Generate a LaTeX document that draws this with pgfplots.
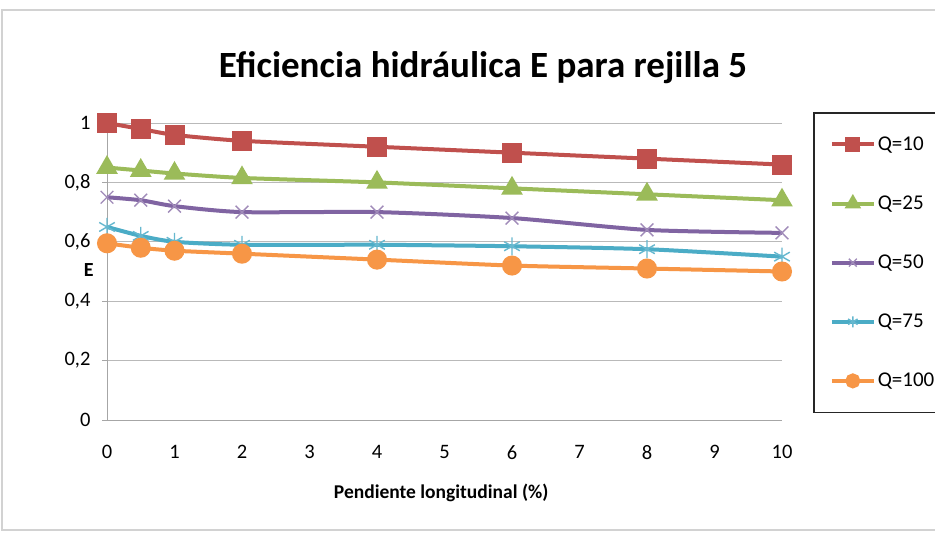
\documentclass[border=0pt]{standalone}
\usepackage{pgfplots}
\pgfplotsset{compat=1.18}
\usepackage{fontspec}
\setmainfont{Carlito}
\definecolor{cA}{HTML}{C0504D}
\definecolor{cB}{HTML}{9BBB59}
\definecolor{cC}{HTML}{8064A2}
\definecolor{cD}{HTML}{4BACC6}
\definecolor{cE}{HTML}{F79646}
\begin{document}
\begin{tikzpicture}[x=1pt,y=1pt]
\fill[white] (0,0) rectangle (935,536);
\draw[gray!35, line width=1.2pt] (2,6) rectangle (945,526);
\node[font=\bfseries\fontsize{37}{42}\selectfont] at (483,468) {Eficiencia hidráulica E para rejilla 5};
\begin{axis}[
  at={(107pt,116pt)}, anchor=south west,
  scale only axis, width=675pt, height=297pt,
  xmin=0, xmax=10, ymin=0, ymax=1,
  xtick={0,1,2,3,4,5,6,7,8,9,10},
  ytick={0,0.2,0.4,0.6,0.8,1},
  yticklabel style={/pgf/number format/use comma,/pgf/number format/fixed},
  /pgf/number format/assume math mode=true,
  tick label style={font=\fontsize{20.5}{22}\selectfont},
  xticklabel style={yshift=-22pt},
  yticklabel style={xshift=-8pt},
  xtick style={draw=none},
  ytick style={draw=gray!70, line width=0.9pt},
  ytick align=outside, major tick length=5pt,
  axis x line*=bottom, axis y line*=left,
  axis line style={gray!70, line width=1pt},
  ymajorgrids, major grid style={gray!55, line width=0.9pt},
  xlabel={Pendiente longitudinal (\%)},
  xlabel style={font=\bfseries\fontsize{19.5}{22}\selectfont, at={(rel axis cs:0.495,-0.246)}, anchor=center},
  ylabel={E},
  ylabel style={font=\bfseries\fontsize{20}{22}\selectfont, rotate=-90, at={(rel axis cs:-0.027,0.505)}, anchor=center},
  every axis plot/.append style={line width=4pt, smooth, tension=0.4},
  legend style={at={(rel axis cs:1.046,1.037)}, anchor=north west,
    draw=black!85, line width=1.6pt, fill=white,
    inner xsep=16pt, inner ysep=22pt,
    font=\fontsize{21}{22}\selectfont, row sep=40pt,
    legend cell align=left},
  legend image code/.code={\draw[mark=none] (0pt,0pt) -- (42pt,0pt); \pgfsetplotmarksize{5.5pt}\draw plot coordinates {(21pt,0pt)};},
]
\addplot[color=cA, mark=square*, mark size=8pt, mark options={solid}] coordinates {
(0,1.00) (0.5,0.98) (1,0.96) (2,0.94) (4,0.92) (6,0.90) (8,0.88) (10,0.86)};
\addlegendentry{Q=10}
\addplot[color=cB, mark=triangle*, mark size=8.5pt, mark options={solid}] coordinates {
(0,0.85) (0.5,0.84) (1,0.83) (2,0.815) (4,0.80) (6,0.78) (8,0.76) (10,0.74)};
\addlegendentry{Q=25}
\addplot[color=cC, mark=x, mark size=9pt, mark options={solid, line width=1.4pt, draw=cC!75}] coordinates {
(0,0.75) (0.5,0.74) (1,0.72) (2,0.70) (4,0.70) (6,0.68) (8,0.64) (10,0.63)};
\addlegendentry{Q=50}
\addplot[color=cD, mark=asterisk, mark size=9pt, mark options={solid, line width=1.4pt, draw=cD!85}] coordinates {
(0,0.65) (0.5,0.62) (1,0.60) (2,0.59) (4,0.59) (6,0.585) (8,0.575) (10,0.55)};
\addlegendentry{Q=75}
\addplot[color=cE, mark=*, mark size=8pt, mark options={solid}] coordinates {
(0,0.595) (0.5,0.58) (1,0.57) (2,0.56) (4,0.54) (6,0.52) (8,0.51) (10,0.50)};
\addlegendentry{Q=100}
\end{axis}
\pgfresetboundingbox
\useasboundingbox (0,0) rectangle (935,536);
\end{tikzpicture}
\end{document}
